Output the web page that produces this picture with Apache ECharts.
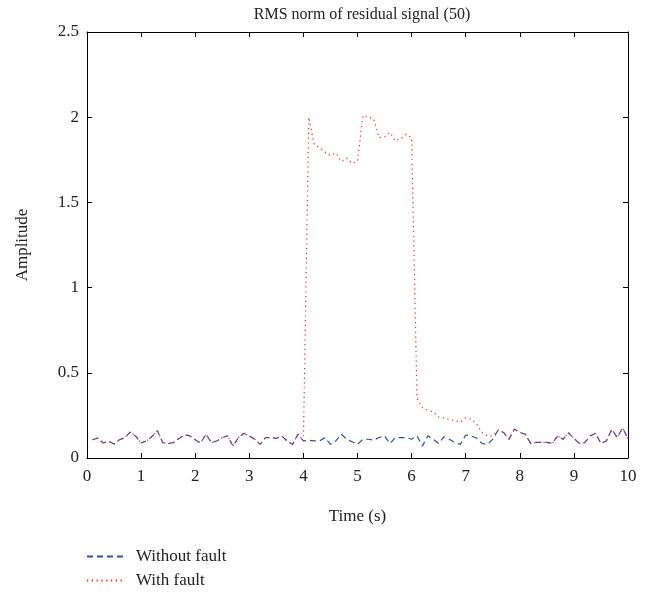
<!DOCTYPE html>
<html>
<head>
<meta charset="utf-8">
<script src="https://cdn.jsdelivr.net/npm/echarts@6/dist/echarts.min.js"></script>
<style>
  html, body { margin: 0; padding: 0; background: #fff; }
  #chart { width: 649px; height: 594px; }
</style>
</head>
<body>
<div id="chart"></div>
<script>
// Amostras a cada 0.1 s, de 0.1 a 10.0
const withoutFault = [
  0.107, 0.117, 0.088, 0.098, 0.082, 0.107, 0.120, 0.152, 0.128, 0.088,
  0.100, 0.126, 0.160, 0.090, 0.085, 0.090, 0.115, 0.135, 0.130, 0.107,
  0.088, 0.140, 0.090, 0.100, 0.120, 0.130, 0.070, 0.120, 0.145, 0.130,
  0.110, 0.080, 0.120, 0.120, 0.115, 0.130, 0.100, 0.080, 0.140, 0.100,
  0.105, 0.100, 0.100, 0.120, 0.080, 0.100, 0.140, 0.110, 0.095, 0.080,
  0.110, 0.110, 0.105, 0.120, 0.130, 0.085, 0.120, 0.120, 0.120, 0.110,
  0.130, 0.070, 0.130, 0.110, 0.085, 0.125, 0.110, 0.090, 0.080, 0.135,
  0.130, 0.117, 0.085, 0.080, 0.110, 0.164, 0.150, 0.110, 0.170, 0.150,
  0.140, 0.086, 0.092, 0.092, 0.092, 0.086, 0.130, 0.110, 0.148, 0.115,
  0.086, 0.090, 0.130, 0.145, 0.085, 0.100, 0.168, 0.120, 0.175, 0.115,
];

const withFault = [
  0.107, 0.117, 0.088, 0.098, 0.082, 0.107, 0.120, 0.152, 0.128, 0.088,
  0.100, 0.126, 0.160, 0.090, 0.085, 0.090, 0.115, 0.135, 0.130, 0.107,
  0.088, 0.140, 0.090, 0.100, 0.120, 0.130, 0.070, 0.120, 0.145, 0.130,
  0.110, 0.080, 0.120, 0.120, 0.115, 0.130, 0.100, 0.080, 0.140, 0.100,
  2.000, 1.840, 1.820, 1.795, 1.775, 1.790, 1.740, 1.760, 1.730, 1.740,
  2.010, 2.000, 1.990, 1.880, 1.885, 1.910, 1.860, 1.875, 1.900, 1.880,
  0.350, 0.295, 0.280, 0.270, 0.240, 0.235, 0.225, 0.220, 0.210, 0.235,
  0.230, 0.200, 0.150, 0.130, 0.130, 0.164, 0.150, 0.110, 0.170, 0.150,
  0.140, 0.086, 0.092, 0.092, 0.092, 0.086, 0.130, 0.110, 0.148, 0.115,
  0.086, 0.090, 0.130, 0.145, 0.085, 0.100, 0.168, 0.120, 0.175, 0.115,
];

const times = withoutFault.map((_, i) => (i + 1) / 10);
const xTicks = { min: 0, max: 10, interval: 1 };
const yTicks = { min: 0, max: 2.5, interval: 0.5 };

const font = 'Liberation Serif';
const black = '#000';
const textColor = '#222';

const chart = echarts.init(document.getElementById('chart'));

const axisBase = {
  axisLine: { show: true, onZero: false, lineStyle: { color: black, width: 1 } },
  axisTick: { show: true, inside: true, length: 5, lineStyle: { color: black } },
  splitLine: { show: false },
};

// Uma legenda por linha, empilhadas abaixo do gráfico
const legendBase = {
  orient: 'vertical',
  left: 86,
  padding: 0,
  itemWidth: 36,
  itemHeight: 12,
  itemStyle: { opacity: 0 },
  textStyle: { fontFamily: font, fontSize: 17, color: textColor, padding: [0, 0, 0, 8] },
};

chart.setOption({
  animation: false,
  backgroundColor: '#fff',
  title: {
    text: 'RMS norm of residual signal (50)',
    left: 357,
    top: 2,
    textAlign: 'center',
    textStyle: { fontFamily: font, fontSize: 16, fontWeight: 'normal', color: textColor },
  },
  legend: [
    { ...legendBase, top: 548, data: ['Without fault'] },
    { ...legendBase, top: 572, data: ['With fault'] },
  ],
  grid: { left: 87, right: 21, top: 32, bottom: 136, containLabel: false },
  xAxis: [
    {
      ...axisBase,
      type: 'value',
      ...xTicks,
      name: 'Time (s)',
      nameLocation: 'middle',
      nameGap: 50,
      nameTextStyle: { fontFamily: font, fontSize: 17, color: textColor },
      axisLabel: { fontFamily: font, fontSize: 17, color: textColor, margin: 10 },
    },
    {
      ...axisBase,
      type: 'value',
      position: 'top',
      ...xTicks,
      axisLabel: { show: false },
    },
  ],
  yAxis: [
    {
      ...axisBase,
      type: 'value',
      ...yTicks,
      name: 'Amplitude',
      nameLocation: 'middle',
      nameGap: 56,
      nameTextStyle: { fontFamily: font, fontSize: 17, color: textColor },
      axisLabel: { fontFamily: font, fontSize: 17, color: textColor, margin: 8 },
    },
    {
      ...axisBase,
      type: 'value',
      position: 'right',
      ...yTicks,
      axisLabel: { show: false },
    },
  ],
  series: [
    {
      name: 'Without fault',
      type: 'line',
      symbol: 'none',
      data: times.map((t, i) => [t, withoutFault[i]]),
      color: '#2c4fb5',
      lineStyle: { color: '#2c4fb5', width: 1.2, type: [6, 4] },
    },
    {
      name: 'With fault',
      type: 'line',
      symbol: 'none',
      data: times.map((t, i) => [t, withFault[i]]),
      color: '#ff1f1f',
      lineStyle: { color: '#ff1f1f', width: 1.2, type: [1.2, 3.6] },
    },
  ],
});
</script>
</body>
</html>
